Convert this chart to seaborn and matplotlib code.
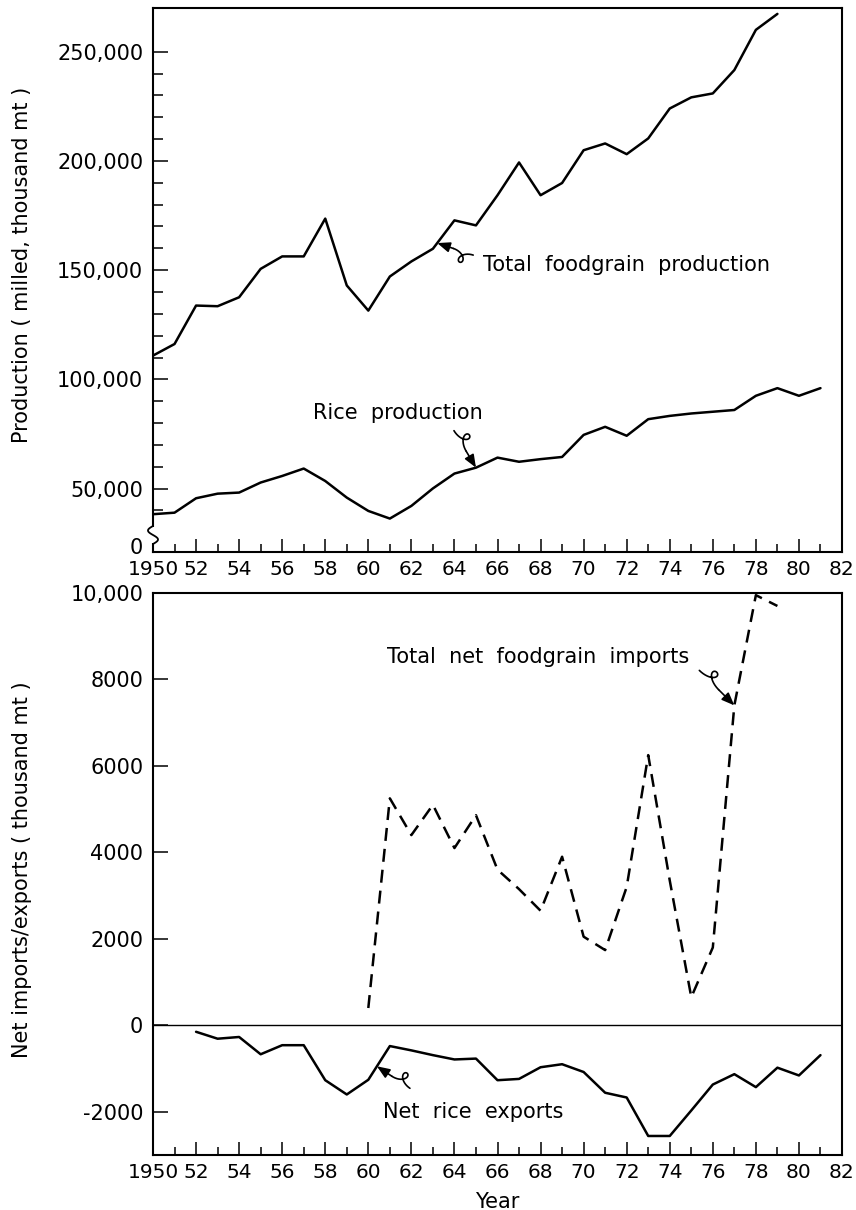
import numpy as np
import pandas as pd
import matplotlib
matplotlib.use("Agg")
import matplotlib.pyplot as plt
from matplotlib.lines import Line2D
from matplotlib.patches import Rectangle
from matplotlib.ticker import FixedLocator
import seaborn as sns

# ---- data (thousand metric tons) ----
years_total = list(range(1950, 1980))
total_foodgrain = [110900, 116200, 133800, 133500, 137600, 150600, 156300, 156300,
                   173600, 143000, 131500, 147100, 154000, 159800, 172800, 170500,
                   184300, 199300, 184300, 189900, 204900, 208000, 203100, 210300,
                   224000, 229100, 230900, 241600, 260000, 267300]

years_rice = list(range(1950, 1982))
rice_production = [38300, 39000, 45600, 47700, 48200, 52800, 55800, 59200,
                   53500, 45900, 39800, 36300, 42100, 50100, 56900, 59600,
                   64200, 62300, 63500, 64500, 74600, 78300, 74200, 81800,
                   83300, 84400, 85200, 86000, 92500, 96000, 92500, 96000]

years_imports = list(range(1960, 1980))
net_foodgrain_imports = [400, 5250, 4400, 5100, 4100, 4860, 3600, 3150, 2650, 3900,
                         2050, 1740, 3200, 6250, 3350, 650, 1800, 7400, 9950, 9700]

years_exports = list(range(1952, 1982))
net_rice_exports = [-150, -310, -270, -670, -460, -460, -1270, -1600, -1260, -480,
                    -580, -690, -790, -770, -1270, -1240, -970, -900, -1080, -1560,
                    -1670, -2560, -2560, -1970, -1370, -1130, -1430, -980, -1160, -690]

year_ticks = list(range(1950, 1983, 2))
year_labels = ["1950"] + [f"{y % 100:02d}" for y in year_ticks[1:]]
prod_ticks = [50000, 100000, 150000, 200000, 250000]
prod_labels = ["50,000", "100,000", "150,000", "200,000", "250,000"]
trade_ticks = [-2000, 0, 2000, 4000, 6000, 8000, 10000]
trade_labels = ["-2000", "0", "2000", "4000", "6000", "8000", "10,000"]

# ---- style ----
sns.set_style("ticks")
plt.rcParams["font.family"] = ["DejaVu Sans"]
plt.rcParams.update({
    "axes.linewidth": 1.5,
    "text.color": "black",
    "axes.labelcolor": "black",
    "xtick.color": "black",
    "ytick.color": "black",
    "axes.edgecolor": "black",
    "savefig.facecolor": "white",
})

W, H = 856, 1210
fig = plt.figure(figsize=(W / 100, H / 100), dpi=100)
ax1 = fig.add_axes([153 / W, 1 - 552 / H, 689 / W, 544 / H])
ax2 = fig.add_axes([153 / W, 1 - 1155 / H, 689 / W, 562 / H])

LW = 1.8

# ---- top panel: production ----
df_total = pd.DataFrame({"year": years_total, "value": total_foodgrain})
df_rice = pd.DataFrame({"year": years_rice, "value": rice_production})
sns.lineplot(data=df_total, x="year", y="value", ax=ax1, color="black",
             lw=LW, estimator=None)
sns.lineplot(data=df_rice, x="year", y="value", ax=ax1, color="black",
             lw=LW, estimator=None)

PROD_MIN = 21000
ZERO_LABEL_POS = 23800   # broken axis: the "0" label sits just above the corner
ax1.set_xlim(1950, 1982)
ax1.set_ylim(PROD_MIN, 270000)
ax1.set_yticks([ZERO_LABEL_POS] + prod_ticks)
ax1.set_yticklabels(["0"] + prod_labels)
ax1.yaxis.get_major_ticks()[0].tick1line.set_visible(False)
ax1.yaxis.set_minor_locator(FixedLocator([v for v in range(40000, 250000, 10000)
                                          if v % 50000 != 0]))
ax1.set_ylabel("Production ( milled, thousand mt )", fontsize=15)
ax1.yaxis.set_label_coords(-0.176, 0.527)
ax1.set_xlabel("")

# ---- bottom panel: trade ----
df_imp = pd.DataFrame({"year": years_imports, "value": net_foodgrain_imports})
df_exp = pd.DataFrame({"year": years_exports, "value": net_rice_exports})
ax2.axhline(0, color="black", lw=1.0)
sns.lineplot(data=df_imp, x="year", y="value", ax=ax2, color="black",
             lw=LW, estimator=None, linestyle=(0, (5.2, 3.2)))
sns.lineplot(data=df_exp, x="year", y="value", ax=ax2, color="black",
             lw=LW, estimator=None)
ax2.set_xlim(1950, 1982)
ax2.set_ylim(-3000, 10000)
ax2.set_yticks(trade_ticks)
ax2.set_yticklabels(trade_labels)
ax2.set_ylabel("Net imports/exports ( thousand mt )", fontsize=15)
ax2.yaxis.set_label_coords(-0.176, 0.507)
ax2.set_xlabel("Year", fontsize=15, labelpad=7)

for ax in (ax1, ax2):
    ax.set_xticks(year_ticks)
    ax.set_xticklabels(year_labels)
    ax.xaxis.set_minor_locator(FixedLocator(list(range(1951, 1982, 2))))
    for s in ax.spines.values():
        s.set_visible(True)
        s.set_linewidth(1.5)
    ax.tick_params(axis="x", which="major", direction="in", length=9.5, width=1.1,
                   labelsize=14.5, pad=6, top=False)
    ax.tick_params(axis="x", which="minor", direction="in", length=5.5, width=1.1,
                   top=False)
    ax.tick_params(axis="y", which="major", direction="in", length=11, width=1.1,
                   labelsize=15, pad=7, right=False)
    ax.tick_params(axis="y", which="minor", direction="in", length=7, width=1.1,
                   right=False)
    ax.grid(False)

# ---- broken-axis mark on the production axis ----
def fx(px):
    return px / W

def fy(py):
    return 1 - py / H

fig.add_artist(Rectangle((fx(149), fy(543)), 9 / W, 16 / H, transform=fig.transFigure,
                         facecolor="white", edgecolor="none", zorder=5))
tt = np.linspace(0, 1, 60)
fig.add_artist(Line2D(fx(153 + 5 * np.sin(2 * np.pi * tt)), fy(544 - 18 * tt),
                      transform=fig.transFigure, color="black", lw=1.3, zorder=6))

# ---- curled pointer arrows ----
def curl_arrow(ax, tip, tail_offset, side=1):
    tip_px = ax.transData.transform(tip)
    tail_px = tip_px + np.asarray(tail_offset, float)
    d = tip_px - tail_px
    L = np.hypot(*d)
    u = d / L
    n = side * np.array([-u[1], u[0]])
    Lc = 0.55 * L
    s = np.linspace(0, 1, 160)
    along = Lc * s + 0.32 * Lc * np.sin(2 * np.pi * s)
    perp = 11.0 * (1 - np.cos(2 * np.pi * s)) / 2
    pts = tail_px[None, :] + along[:, None] * u[None, :] + perp[:, None] * n[None, :]
    pts_f = fig.transFigure.inverted().transform(pts)
    fig.add_artist(Line2D(pts_f[:, 0], pts_f[:, 1], transform=fig.transFigure,
                          color="black", lw=1.2))
    start_f = fig.transFigure.inverted().transform(tail_px + u * Lc)
    tip_f = fig.transFigure.inverted().transform(tip_px)
    ax.annotate("", xy=tip_f, xycoords="figure fraction",
                xytext=start_f, textcoords="figure fraction",
                arrowprops=dict(arrowstyle="-|>,head_length=0.55,head_width=0.22",
                                color="black", lw=1.2, shrinkA=0, shrinkB=0,
                                mutation_scale=14),
                annotation_clip=False)

curl_arrow(ax1, (1963.2, np.interp(1963.2, years_total, total_foodgrain)), (36, -12), side=1)
curl_arrow(ax1, (1965, rice_production[15]), (-22, 37), side=1)
curl_arrow(ax2, (1977, net_foodgrain_imports[17]), (-35, 35), side=1)
curl_arrow(ax2, (1960.4, np.interp(1960.4, years_exports, net_rice_exports)), (33, -22), side=-1)

# ---- series labels ----
fig.text(fx(483), fy(265), "Total  foodgrain  production", fontsize=15, ha="left", va="center")
fig.text(fx(313), fy(413), "Rice  production", fontsize=15, ha="left", va="center")
fig.text(fx(387), fy(657), "Total  net  foodgrain  imports", fontsize=15, ha="left", va="center")
fig.text(fx(383), fy(1112), "Net  rice  exports", fontsize=15, ha="left", va="center")

fig.savefig("out.png", dpi=100)
